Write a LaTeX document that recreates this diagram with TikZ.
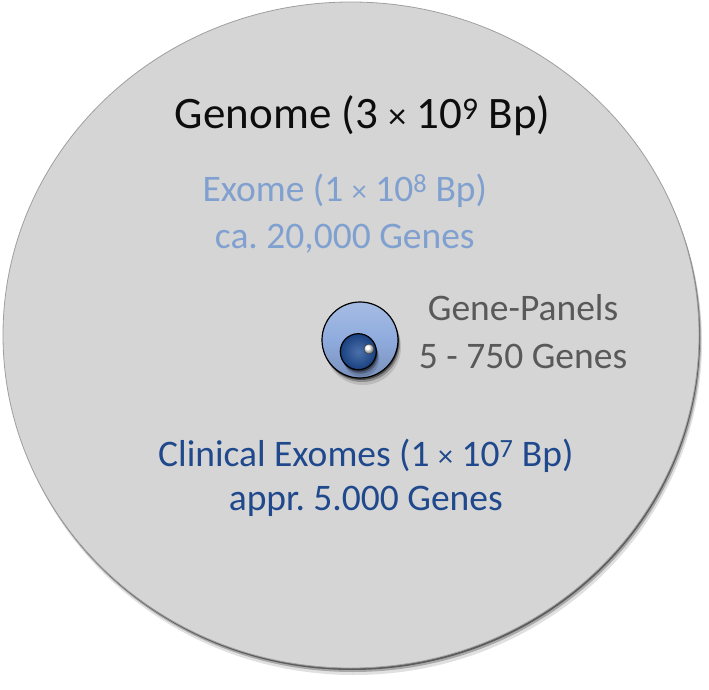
\documentclass[tikz,border=0pt]{standalone}
\usepackage{fontspec}
\setmainfont{Carlito}
\usepackage{tikz}
\usetikzlibrary{shapes.geometric, shadows, positioning}
\definecolor{genomegray}{RGB}{213,213,213}
\definecolor{exometext}{RGB}{128,160,208}
\definecolor{exomefill}{RGB}{143,171,221}
\definecolor{clinicaltext}{RGB}{31,73,140}
\definecolor{clinicalfill}{RGB}{30,76,150}
\definecolor{paneltext}{RGB}{89,89,89}
\newcommand{\bptimes}{\scalebox{.8}{×}}
\tikzset{every node/.style={inner sep=0pt, outer sep=0pt},
         softshadow/.style={general shadow={shadow xshift=3pt, shadow yshift=-7pt, fill=black, opacity=.12},
                            general shadow={shadow xshift=2pt, shadow yshift=-4pt, fill=black, opacity=.25},
                            general shadow={shadow xshift=1pt, shadow yshift=-2pt, fill=black, opacity=.45}},
         disc/.style={circle, draw=black, line width=1.2pt},
         txt/.style={anchor=base, font=\fontsize{37.5}{45}\selectfont},
         }
\frenchspacing

\begin{document}
\begin{tikzpicture}[x=1pt, y=1pt]
    \useasboundingbox (0,0) rectangle (709,689);
    % the sets
    \node[ellipse, minimum width=696pt, minimum height=666pt, fill=genomegray, draw=gray!75, line width=.8pt, softshadow] (genome) at (351,354) {};
    \node[disc, minimum size=76pt, top color=exomefill!80!white, bottom color=exomefill!85!black, middle color=exomefill, softshadow] (exome) at (360,349) {};
    \node[disc, minimum size=36pt, inner color=clinicalfill!80!white, outer color=clinicalfill!85!black, softshadow] (clinical) at (358.3,337.3) {};
    \node[circle, minimum size=10pt, ball color=white, draw=gray!40!black, line width=.4pt] (panel) at (369,340) {};

    % the labels
    \node[txt, font=\fontsize{45}{54}\selectfont, text=black!95] (genometxt) at (362.7,560.7) {Genome (3 \bptimes{} 10\textsuperscript{9} Bp)};
    \node[txt, text=exometext] (exometxt) at (344.8,487.3) {Exome (1 \bptimes{} 10\textsuperscript{8} Bp)};
    \node[txt, text=exometext, below=46.6pt of exometxt.base, anchor=base] (exomegenes) {ca. 20,000 Genes};
    \node[txt, text=paneltext] (paneltxt) at (523,368.5) {Gene-Panels};
    \node[txt, text=paneltext, below=47.5pt of paneltxt.base, anchor=base] (panelgenes) {5 - 750 Genes};
    \node[txt, text=clinicaltext] (clinicaltxt) at (365.8,222.3) {Clinical Exomes (1 \bptimes{} 10\textsuperscript{7} Bp)};
    \node[txt, text=clinicaltext, below=44pt of clinicaltxt.base, anchor=base] (clinicalgenes) {appr. 5.000 Genes};
\end{tikzpicture}
\end{document}
